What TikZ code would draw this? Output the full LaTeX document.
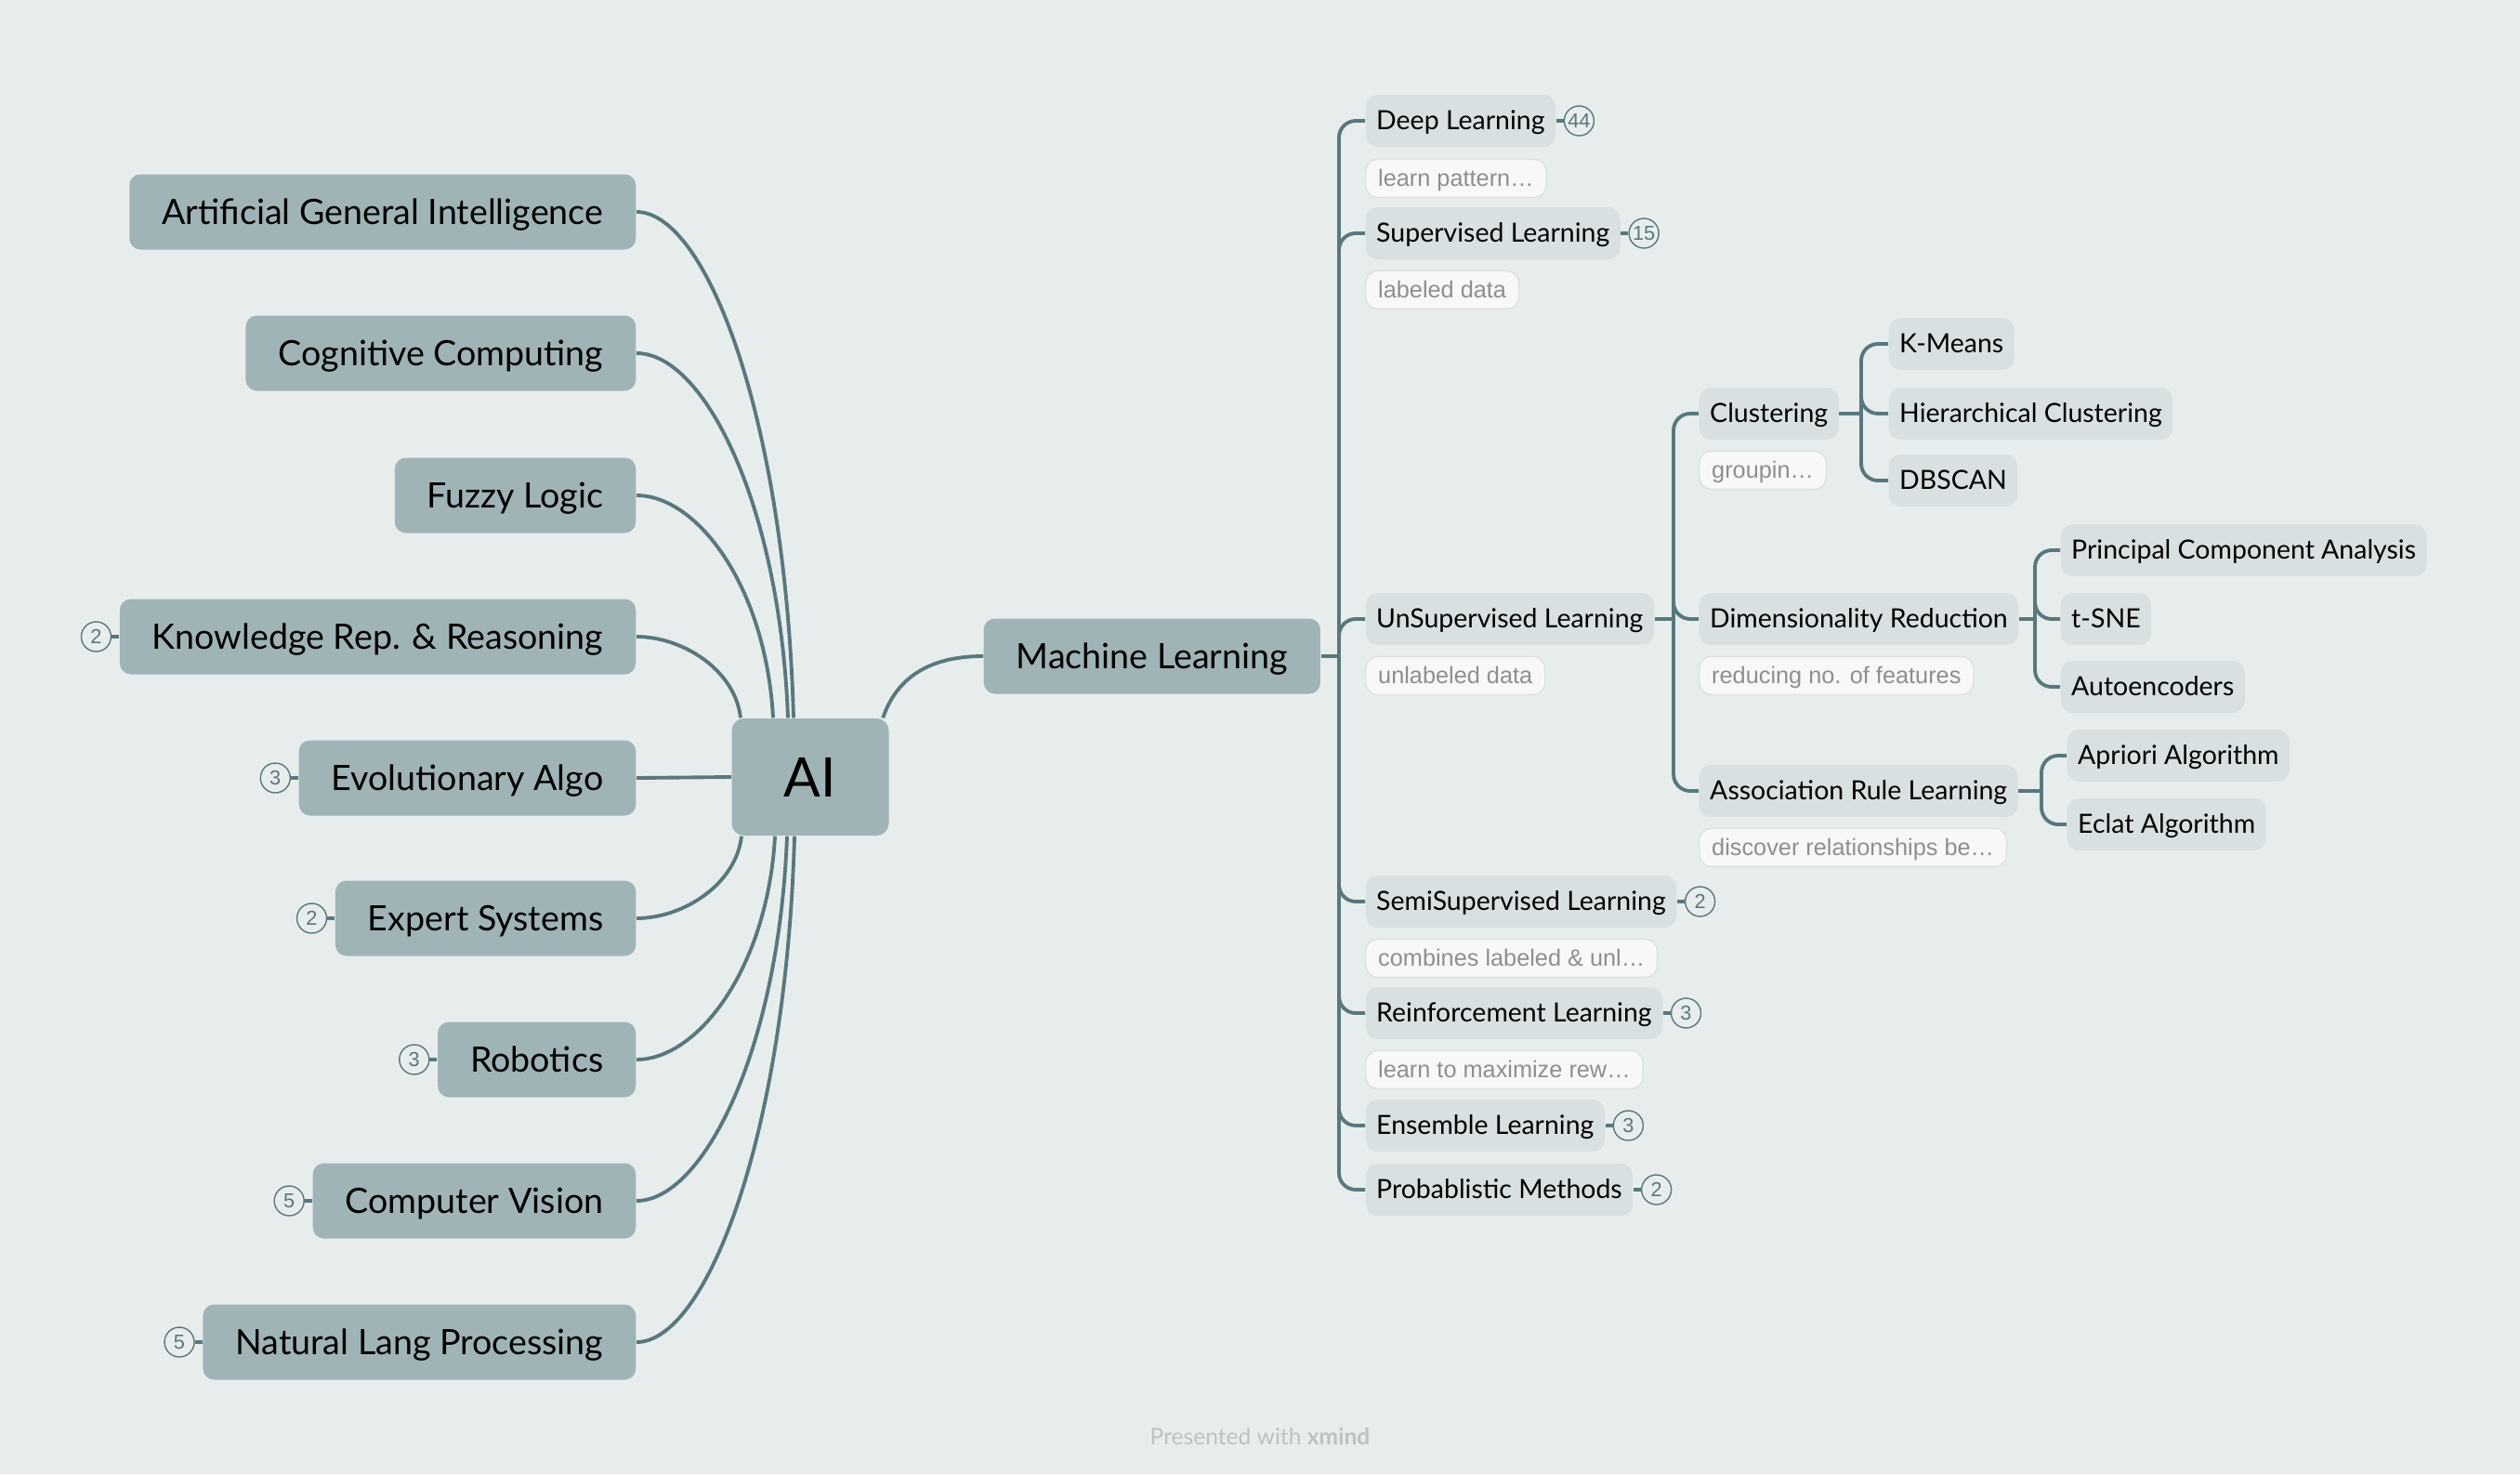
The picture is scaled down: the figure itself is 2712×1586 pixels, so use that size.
\documentclass[tikz,border=0pt]{standalone}
\usepackage{fontspec}
\setmainfont{Lato}
\newfontfamily\notefont{Liberation Sans}
\usetikzlibrary{positioning}
\usetikzlibrary{calc}
\definecolor{mm-paper}{HTML}{E7EDED}
\definecolor{mm-topic}{HTML}{A0B4B8}
\definecolor{mm-sub}{HTML}{D8E0E1}
\definecolor{mm-line}{HTML}{5A777E}
\definecolor{mm-note}{HTML}{F7F9F9}
\definecolor{mm-noteline}{HTML}{DCE1E2}
\definecolor{mm-notetext}{HTML}{8C8F90}
\definecolor{mm-footer}{HTML}{BCC1C1}
\pgfdeclarelayer{paper}
\pgfdeclarelayer{links}
\pgfsetlayers{paper,links,main}
\tikzset{
  core/.style={fill=mm-topic, rounded corners=1.3mm, minimum width=16.9mm, minimum height=12.6mm,
    inner sep=0pt, text height=5.2mm, text depth=1mm, font=\fontsize{16.7}{18}\selectfont},
  topic/.style={fill=mm-topic, rounded corners=1.2mm, minimum height=8.1mm, inner xsep=3.5mm,
    inner ysep=0pt, text height=3.4mm, text depth=0.8mm, font=\fontsize{10.7}{12}\selectfont},
  subtopic/.style={fill=mm-sub, rounded corners=1.3mm, minimum height=5.6mm, inner xsep=1.15mm,
    inner ysep=0pt, text height=2.5mm, text depth=0.6mm, font=\fontsize{8.1}{9}\selectfont},
  note/.style={fill=mm-note, draw=mm-noteline, line width=0.4pt, rounded corners=1.3mm,
    minimum height=4.1mm, inner xsep=1.35mm, inner ysep=0pt, text height=2.3mm, text depth=0.5mm,
    text=mm-notetext, font=\notefont\fontsize{7.2}{9}\selectfont},
  counter/.style={circle, draw=mm-line, line width=0.4pt, fill=mm-paper, minimum size=3.2mm,
    inner sep=0pt, text=mm-line, font=\notefont\fontsize{6.2}{7}\selectfont},
  tick/.style={draw=mm-line, line width=0.9pt},
  link/.style={draw=mm-line, line width=1.1pt},
  branch/.style={draw=mm-line, line width=1.1pt, rounded corners=1.8mm},
}

\begin{document}
\begin{tikzpicture}[x=0.1mm, y=-0.1mm]
    \useasboundingbox (0,0) rectangle (2712,1586);
    \begin{pgfonlayer}{paper}
        \fill[mm-paper] (0,0) rectangle (2712,1586);
    \end{pgfonlayer}

    % centre
    \node[core] (ai) at (872,836) {AI};

    % left side
    \node[topic, anchor=east] (agi) at (685,228) {Artificial General Intelligence};
    \node[topic, anchor=east] (cc) at (685,380) {Cognitive Computing};
    \node[topic, anchor=east] (fl) at (685,533) {Fuzzy Logic};
    \node[topic, anchor=east] (krr) at (685,685) {Knowledge Rep. \& Reasoning};
    \node[topic, anchor=east] (ea) at (685,837) {Evolutionary Algo};
    \node[topic, anchor=east] (es) at (685,988) {Expert Systems};
    \node[topic, anchor=east] (rob) at (685,1140) {Robotics};
    \node[topic, anchor=east] (cv) at (685,1292) {Computer Vision};
    \node[topic, anchor=east] (nlp) at (685,1444) {Natural Lang Processing};

    \node[counter, left=0.8mm of krr] (krrn) {2};
    \node[counter, left=0.8mm of ea] (ean) {3};
    \node[counter, left=0.8mm of es] (esn) {2};
    \node[counter, left=0.8mm of rob] (robn) {3};
    \node[counter, left=0.8mm of cv] (cvn) {5};
    \node[counter, left=0.8mm of nlp] (nlpn) {5};

    % machine learning
    \node[topic, anchor=west] (ml) at (1058,706) {Machine Learning};

    \node[subtopic, anchor=west] (dl) at (1469,130) {Deep Learning};
    \node[counter, right=0.8mm of dl] (dln) {44};
    \node[note, below=1.2mm of dl.south west, anchor=north west] (dlnote) {learn pattern\ldots};

    \node[subtopic, anchor=west] (sl) at (1469,251) {Supervised Learning};
    \node[counter, right=0.8mm of sl] (sln) {15};
    \node[note, below=1.1mm of sl.south west, anchor=north west] (slnote) {labeled data};

    \node[subtopic, anchor=west] (ul) at (1469,666) {UnSupervised Learning};
    \node[note, below=1.1mm of ul.south west, anchor=north west] (ulnote) {unlabeled data};

    \node[subtopic, anchor=west] (ssl) at (1469,970) {SemiSupervised Learning};
    \node[counter, right=0.8mm of ssl] (ssln) {2};
    \node[note, below=1.1mm of ssl.south west, anchor=north west] (sslnote) {combines labeled \& unl\ldots};

    \node[subtopic, anchor=west] (rl) at (1469,1090) {Reinforcement Learning};
    \node[counter, right=0.8mm of rl] (rln) {3};
    \node[note, below=1.1mm of rl.south west, anchor=north west] (rlnote) {learn to maximize rew\ldots};

    \node[subtopic, anchor=west] (el) at (1469,1211) {Ensemble Learning};
    \node[counter, right=0.8mm of el] (eln) {3};

    \node[subtopic, anchor=west] (pm) at (1469,1280) {Probablistic Methods};
    \node[counter, right=0.8mm of pm] (pmn) {2};

    % unsupervised
    \node[subtopic, anchor=west] (cl) at (1828,445) {Clustering};
    \node[note, below=1.1mm of cl.south west, anchor=north west] (clnote) {groupin\ldots};
    \node[subtopic, anchor=west] (dr) at (1828,666) {Dimensionality Reduction};
    \node[note, below=1.1mm of dr.south west, anchor=north west] (drnote) {reducing no. of features};
    \node[subtopic, anchor=west] (arl) at (1828,851) {Association Rule Learning};
    \node[note, below=1.1mm of arl.south west, anchor=north west] (arlnote) {discover relationships be\ldots};

    \node[subtopic, anchor=west] (km) at (2032,370) {K-Means};
    \node[subtopic, anchor=west] (hc) at (2032,445) {Hierarchical Clustering};
    \node[subtopic, anchor=west] (db) at (2032,517) {DBSCAN};

    \node[subtopic, anchor=west] (pca) at (2217,592) {Principal Component Analysis};
    \node[subtopic, anchor=west] (tsne) at (2217,666) {t-SNE};
    \node[subtopic, anchor=west] (ae) at (2217,739) {Autoencoders};

    \node[subtopic, anchor=west] (apr) at (2224,813) {Apriori Algorithm};
    \node[subtopic, anchor=west] (ecl) at (2224,887) {Eclat Algorithm};

    \node[text=mm-footer, font=\fontsize{7}{8}\selectfont] (credit) at (1356,1545) {Presented with \textbf{xmind}};

    % counter ticks
    \draw[tick] (krrn) -- (krr);
    \draw[tick] (ean) -- (ea);
    \draw[tick] (esn) -- (es);
    \draw[tick] (robn) -- (rob);
    \draw[tick] (cvn) -- (cv);
    \draw[tick] (nlpn) -- (nlp);
    \draw[tick] (dl) -- (dln);
    \draw[tick] (sl) -- (sln);
    \draw[tick] (ssl) -- (ssln);
    \draw[tick] (rl) -- (rln);
    \draw[tick] (el) -- (eln);
    \draw[tick] (pm) -- (pmn);

    \begin{pgfonlayer}{links}
        % AI fan
        \draw[link] (agi.east) .. controls +(75,0) and +(-9,-323) .. ([xshift=-1.8mm]ai.north);
        \draw[link] (cc.east) .. controls +(72,0) and +(-9,-232) .. ([xshift=-2.4mm]ai.north);
        \draw[link] (fl.east) .. controls +(65,0) and +(-8,-142) .. ([xshift=-4mm]ai.north);
        \draw[link] (krr.east) .. controls +(49,0) and +(-6,-52) .. ([xshift=-7.5mm]ai.north);
        \draw[link] (ea.east) -- (ai.west);
        \draw[link] (es.east) .. controls +(50,0) and +(-6,52) .. ([xshift=-7.4mm]ai.south);
        \draw[link] (rob.east) .. controls +(66,0) and +(-8,142) .. ([xshift=-3.8mm]ai.south);
        \draw[link] (cv.east) .. controls +(71,0) and +(-9,232) .. ([xshift=-2.5mm]ai.south);
        \draw[link] (nlp.east) .. controls +(75,0) and +(-9,322) .. ([xshift=-1.7mm]ai.south);
        \draw[link] (ml.west) .. controls +(-64,0) and +(13,-38) .. ([xshift=-0.7mm]ai.north east);

        % tree
        \coordinate (mlhub) at (1441,706);
        \draw[branch] (ml.east) -- (mlhub);
        \foreach \c in {dl,sl,ul,ssl,rl,el,pm}
            \draw[branch] (mlhub) |- (\c.west);

        \coordinate (ulhub) at (1801,666);
        \draw[branch] (ul.east) -- (ulhub);
        \foreach \c in {cl,dr,arl}
            \draw[branch] (ulhub) |- (\c.west);

        \coordinate (clhub) at (2003,445);
        \draw[branch] (cl.east) -- (clhub);
        \foreach \c in {km,hc,db}
            \draw[branch] (clhub) |- (\c.west);

        \coordinate (drhub) at (2190,666);
        \draw[branch] (dr.east) -- (drhub);
        \foreach \c in {pca,tsne,ae}
            \draw[branch] (drhub) |- (\c.west);

        \coordinate (arlhub) at (2197,851);
        \draw[branch] (arl.east) -- (arlhub);
        \foreach \c in {apr,ecl}
            \draw[branch] (arlhub) |- (\c.west);
    \end{pgfonlayer}
\end{tikzpicture}
\end{document}
